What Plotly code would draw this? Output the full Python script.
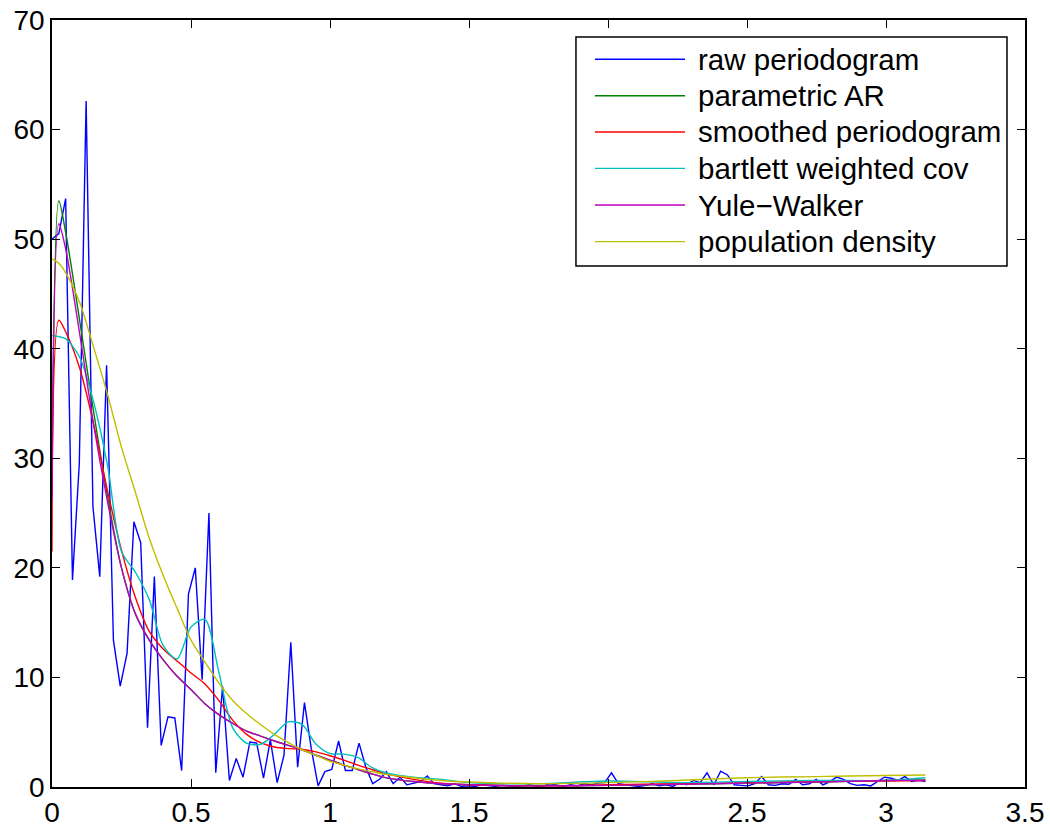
import numpy as np
import plotly.graph_objects as go

# frequencies of the raw periodogram (129 points, 0..pi)
freq = np.linspace(0, np.pi, 129)

raw_periodogram = [
    50.0, 50.5, 53.7, 18.9, 29.5, 62.6, 25.6, 19.2, 38.5, 13.4,
    9.2, 12.2, 24.2, 22.3, 5.4, 19.2, 3.8, 6.4, 6.3, 1.5,
    17.6, 20.0, 9.8, 25.0, 1.3, 9.2, 0.6, 2.6, 0.9, 4.1,
    4.0, 0.8, 4.3, 0.4, 2.9, 13.2, 1.8, 7.7, 3.5, 0.1,
    1.4, 1.6, 4.2, 1.5, 1.5, 4.0, 1.8, 0.3, 0.7, 1.4,
    0.3, 0.9, 0.2, 0.35, 0.5, 1.0, 0.3, 0.2, 0.1, 0.3,
    0.05, 0.1, 0.05, 0.2, 0.1, 0.05, 0.15, 0.1, 0.02, 0.1,
    0.2, 0.05, 0.1, 0.3, 0.15, 0.05, 0.2, 0.1, 0.3, 0.2,
    0.35, 0.4, 1.3, 0.3, 0.2, 0.1, 0.05, 0.15, 0.3, 0.1,
    0.2, 0.05, 0.4, 0.2, 0.6, 0.4, 1.3, 0.2, 1.45, 1.1,
    0.2, 0.15, 0.1, 0.3, 0.95, 0.2, 0.15, 0.3, 0.25, 0.7,
    0.2, 0.3, 0.7, 0.2, 0.5, 0.9, 0.7, 0.3, 0.15, 0.2,
    0.1, 0.5, 0.9, 0.8, 0.6, 0.95, 0.5, 0.6, 0.5,
]

# smooth estimates, read at a coarser grid
freq_s = [0, 0.0245, 0.05, 0.1, 0.15, 0.2, 0.25, 0.3, 0.35, 0.4, 0.45, 0.5,
          0.55, 0.6, 0.65, 0.7, 0.75, 0.8, 0.85, 0.9, 0.95, 1.0, 1.05, 1.1,
          1.15, 1.2, 1.25, 1.3, 1.4, 1.5, 1.75, 2.0, 2.25, 2.5, 2.75, 3.0, 3.1416]

parametric_ar = [28.0, 53.5, 50.5, 42.5, 34.2, 26.5, 20.0, 15.8, 13.4, 11.6, 10.1, 8.9,
                 7.6, 6.6, 5.8, 5.1, 4.65, 4.2, 3.8, 3.4, 2.9, 2.45, 2.0, 1.6,
                 1.2, 0.85, 0.65, 0.5, 0.3, 0.2, 0.1, 0.15, 0.25, 0.35, 0.45, 0.6, 0.65]

smoothed = [21.5, 42.6, 41.5, 38.2, 33.1, 27.0, 21.6, 17.3, 14.2, 12.6, 11.5, 10.4,
            9.4, 7.9, 6.1, 4.8, 4.05, 3.65, 3.5, 3.45, 3.2, 2.85, 2.45, 2.0,
            1.6, 1.2, 0.95, 0.7, 0.35, 0.2, 0.1, 0.2, 0.3, 0.4, 0.5, 0.55, 0.6]

bartlett = [41.2, 41.1, 40.9, 39.2, 35.1, 29.3, 21.5, 19.6, 17.1, 12.9, 11.7, 14.6,
            15.3, 10.5, 5.4, 4.0, 3.9, 4.8, 5.95, 5.7, 3.9, 3.05, 3.0, 2.7,
            1.8, 1.3, 1.05, 0.9, 0.7, 0.4, 0.3, 0.55, 0.4, 0.5, 0.6, 0.6, 0.85]

yule_walker = [26.2, 51.4, 49.0, 41.3, 33.0, 26.0, 20.0, 15.8, 13.4, 11.6, 10.1, 8.9,
               7.6, 6.6, 5.8, 5.1, 4.65, 4.2, 3.8, 3.4, 2.9, 2.45, 2.0, 1.6,
               1.2, 0.85, 0.65, 0.5, 0.3, 0.2, 0.1, 0.15, 0.25, 0.35, 0.45, 0.6, 0.6]

population = [48.2, 47.8, 46.9, 44.2, 40.1, 35.8, 31.0, 26.9, 22.7, 19.3, 16.3, 13.4,
              11.4, 9.5, 7.9, 6.7, 5.7, 4.8, 4.05, 3.4, 2.9, 2.35, 2.0, 1.65,
              1.4, 1.15, 1.0, 0.85, 0.6, 0.45, 0.3, 0.4, 0.6, 0.85, 0.95, 1.05, 1.1]

names = ["raw periodogram", "parametric AR", "smoothed periodogram",
         "bartlett weighted cov", "Yule\u2212Walker", "population density"]
colors = ["#0000ff", "#008000", "#ff0000", "#00bfbf", "#bf00bf", "#bfbf00"]

series = [raw_periodogram, parametric_ar, smoothed, bartlett, yule_walker, population]

fig = go.Figure()
for i, (name, ys) in enumerate(zip(names, series)):
    if i == 0:
        fig.add_trace(go.Scatter(x=freq, y=ys, mode="lines", name=name,
                                 line=dict(color=colors[i], width=1.4), showlegend=False))
    else:
        fig.add_trace(go.Scatter(x=freq_s, y=ys, mode="lines", name=name,
                                 line=dict(color=colors[i], width=1.4, shape="spline", smoothing=0.8),
                                 showlegend=False))

# matlab style legend box drawn by hand (long line samples)
leg_x0, leg_x1 = 0.5385, 0.9815
leg_y0, leg_y1 = 0.6793, 0.9778
row_y = [0.9488, 0.9013, 0.8540, 0.8066, 0.7588, 0.7110]
fig.add_shape(type="rect", xref="paper", yref="paper", x0=leg_x0, x1=leg_x1,
              y0=leg_y0, y1=leg_y1, line=dict(color="black", width=1.5), fillcolor="white")
for name, c, yy in zip(names, colors, row_y):
    fig.add_shape(type="line", xref="paper", yref="paper", x0=0.558, x1=0.6506,
                  y0=yy, y1=yy, line=dict(color=c, width=1.4))
    fig.add_annotation(xref="paper", yref="paper", x=0.6619, y=yy, text=name,
                       showarrow=False, xanchor="left", yanchor="middle",
                       font=dict(size=29.5, color="black"))

axis_style = dict(showgrid=False, zeroline=False, showline=True, mirror="ticks",
                  linecolor="black", linewidth=1.5, ticks="inside", ticklen=8,
                  tickcolor="black", tickwidth=1.2, automargin=False,
                  ticklabeloverflow="allow",
                  tickfont=dict(size=28, color="black"))

fig.update_layout(
    width=1050, height=831,
    margin=dict(l=52, r=25, t=20, b=44),
    paper_bgcolor="white", plot_bgcolor="white",
    font=dict(family="Liberation Sans, Arial, sans-serif"),
    xaxis=dict(range=[0, 3.5], tickvals=[0, 0.5, 1, 1.5, 2, 2.5, 3, 3.5], **axis_style),
    yaxis=dict(range=[0, 70], tickvals=list(range(0, 80, 10)), **axis_style),
)

# drop the default 8px page margin so the figure fills the window
fig.write_html("out.html", config={"displayModeBar": False},
               post_script="document.body.style.margin='0';document.body.style.overflow='hidden';")
